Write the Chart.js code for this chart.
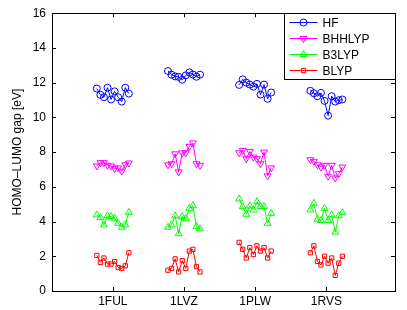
<!DOCTYPE html>
<html>
<head>
<meta charset="utf-8">
<title>HOMO-LUMO gap</title>
<style>
  html, body { margin: 0; padding: 0; background: #fff; }
  #c { display: block; }
</style>
</head>
<body>
<canvas id="c" width="407" height="310" style="width:407px;height:310px"></canvas>
<script src="https://cdn.jsdelivr.net/npm/chart.js@4"></script>
<script>
// ===== data =====
const categories = ["1FUL", "1LVZ", "1PLW", "1RVS"];
const sampleIdx = [1, 2, 3, 4, 5, 6, 7, 8, 9, 10];   // sample number inside a group
const groupStart = [0, 20, 40, 60];                    // x offset of each group
const tickPos = [5.5, 25.5, 45.5, 65.5];               // centre of each group

const seriesNames = ["HF", "BHHLYP", "B3LYP", "BLYP"];

const hf = [
  [11.66, 11.30, 11.16, 11.71, 11.03, 11.50, 11.16, 10.91, 11.71, 11.37],
  [12.67, 12.46, 12.36, 12.33, 12.17, 12.42, 12.59, 12.47, 12.34, 12.46],
  [11.87, 12.19, 12.00, 11.89, 11.77, 11.93, 11.31, 11.89, 11.07, 11.43],
  [11.53, 11.39, 11.22, 11.41, 10.95, 10.10, 11.22, 10.91, 10.99, 11.03]
];
const bhhlyp = [
  [7.20, 7.39, 7.39, 7.24, 7.20, 7.05, 7.09, 6.90, 7.27, 7.37],
  [7.27, 7.33, 7.90, 6.86, 7.96, 7.96, 8.33, 8.53, 7.33, 7.24],
  [7.96, 8.10, 7.62, 8.04, 7.71, 7.62, 7.33, 8.00, 6.63, 7.09],
  [7.56, 7.47, 7.27, 7.14, 7.24, 6.61, 7.24, 6.51, 6.76, 7.14]
];
const b3lyp = [
  [4.38, 4.23, 3.81, 4.33, 4.29, 4.19, 3.90, 3.67, 3.81, 4.53],
  [3.67, 3.81, 4.33, 3.30, 4.29, 4.19, 4.76, 4.91, 3.71, 3.58],
  [5.30, 4.86, 4.42, 4.90, 4.67, 5.14, 4.86, 4.86, 3.90, 4.47],
  [4.67, 5.05, 4.13, 4.06, 4.76, 4.06, 4.38, 3.39, 4.33, 4.51]
];
const blyp = [
  [2.05, 1.65, 1.90, 1.55, 1.55, 1.70, 1.35, 1.30, 1.45, 2.20],
  [1.20, 1.30, 1.85, 1.10, 1.75, 1.30, 2.30, 2.40, 1.40, 1.10],
  [2.80, 2.40, 1.90, 2.50, 2.10, 2.60, 2.30, 2.50, 1.90, 2.30],
  [2.20, 2.60, 1.70, 1.50, 2.00, 1.60, 1.90, 0.90, 1.60, 2.00]
];

const yTicks = [0, 2, 4, 6, 8, 10, 12, 14, 16];

// ===== helpers =====
const FONT = "'Liberation Sans', Arial, Helvetica, sans-serif";
const CLEAR = "rgba(0,0,0,0)";

// groups become one line each, broken by a null point in between
function buildPoints(groups){
  const pts = [];
  groups.forEach((vals, g) => {
    vals.forEach((v, k) => pts.push({ x: groupStart[g] + sampleIdx[k], y: v }));
    pts.push({ x: groupStart[g] + sampleIdx[sampleIdx.length - 1] + 1, y: null });
  });
  return pts;
}

function makeSet(name, groups, color, style, radius, rotation){
  return {
    label: name,
    data: buildPoints(groups),
    borderColor: color,
    backgroundColor: CLEAR,
    pointBorderColor: color,
    pointBackgroundColor: CLEAR,
    borderWidth: 1,
    pointBorderWidth: 1,
    pointStyle: style,
    pointRadius: radius,
    pointHoverRadius: radius,
    pointRotation: rotation || 0,
    spanGaps: false,
    tension: 0
  };
}

// ===== box + inward ticks (matlab style) =====
const boxPlugin = {
  id: "box",
  afterDraw(ch){
    const a = ch.chartArea, c = ch.ctx;
    const xs = ch.scales.x, ys = ch.scales.y;
    c.save();
    c.strokeStyle = "#000";
    c.lineWidth = 1;
    c.beginPath();
    yTicks.forEach(v => {
      const y = Math.round(ys.getPixelForValue(v)) + 0.5;
      c.moveTo(a.left, y); c.lineTo(a.left + 4, y);
      c.moveTo(a.right, y); c.lineTo(a.right - 4, y);
    });
    tickPos.forEach(v => {
      const x = Math.round(xs.getPixelForValue(v)) + 0.5;
      c.moveTo(x, a.bottom); c.lineTo(x, a.bottom - 4);
      c.moveTo(x, a.top); c.lineTo(x, a.top + 4);
    });
    c.stroke();
    c.strokeRect(Math.round(a.left) + 0.5, Math.round(a.top) + 0.5,
                 Math.round(a.right - a.left), Math.round(a.bottom - a.top));
    c.restore();
  }
};

// ===== legend (line + marker, boxed) =====
const legendPlugin = {
  id: "mlegend",
  afterDraw(ch){
    const a = ch.chartArea, c = ch.ctx;
    const w = 111, h = 66;
    const x0 = Math.round(a.right) - w + 0.5, y0 = Math.round(a.top) + 0.5;
    c.save();
    c.fillStyle = "#fff";
    c.fillRect(x0, y0, w, h);
    c.strokeStyle = "#000";
    c.lineWidth = 1;
    c.strokeRect(x0, y0, w, h);
    c.font = "12px " + FONT;
    c.textBaseline = "middle";
    ch.data.datasets.forEach((ds, i) => {
      const y = y0 + 9 + i * 16;
      c.strokeStyle = ds.borderColor;
      c.beginPath();
      c.moveTo(x0 + 5, y); c.lineTo(x0 + 33, y);
      c.stroke();
      c.fillStyle = CLEAR;
      Chart.helpers.drawPoint(c, {
        pointStyle: ds.pointStyle,
        radius: ds.pointRadius,
        rotation: ds.pointRotation,
        borderWidth: 1
      }, x0 + 19, y);
      c.fillStyle = "#000";
      c.fillText(ds.label, x0 + 38, y + 1);
    });
    c.restore();
  }
};

// ===== chart =====
new Chart(document.getElementById("c"), {
  type: "line",
  data: {
    datasets: [
      makeSet(seriesNames[0], hf, "#0000ff", "circle", 3.5),
      makeSet(seriesNames[1], bhhlyp, "#ff00ff", "triangle", 4, 180),
      makeSet(seriesNames[2], b3lyp, "#00ff00", "triangle", 4),
      makeSet(seriesNames[3], blyp, "#ff0000", "rect", 3)
    ]
  },
  options: {
    responsive: false,
    animation: false,
    devicePixelRatio: 1,
    layout: { padding: { left: 0, top: 10, right: 12, bottom: 0 } },
    plugins: { legend: { display: false }, tooltip: { enabled: false } },
    scales: {
      x: {
        type: "linear",
        min: -11.6,
        max: 84.8,
        grid: { display: false, drawTicks: false },
        border: { display: false },
        afterBuildTicks: s => { s.ticks = tickPos.map(v => ({ value: v })); },
        afterFit: s => { s.height = 19; },
        ticks: {
          autoSkip: false,
          maxRotation: 0,
          padding: 3,
          color: "#000",
          font: { family: FONT, size: 12 },
          callback: (v, i) => categories[i]
        }
      },
      y: {
        min: 0,
        max: 16,
        grid: { display: false, drawTicks: false },
        border: { display: false },
        afterBuildTicks: s => { s.ticks = yTicks.map(v => ({ value: v })); },
        afterFit: s => { s.width = 52; },
        ticks: {
          padding: 6,
          color: "#000",
          font: { family: FONT, size: 12 }
        },
        title: {
          display: true,
          text: "HOMO–LUMO gap [eV]",
          color: "#000",
          font: { family: FONT, size: 12 },
          padding: { top: 10, bottom: 0 }
        }
      }
    }
  },
  plugins: [boxPlugin, legendPlugin]
});
</script>
</body>
</html>
